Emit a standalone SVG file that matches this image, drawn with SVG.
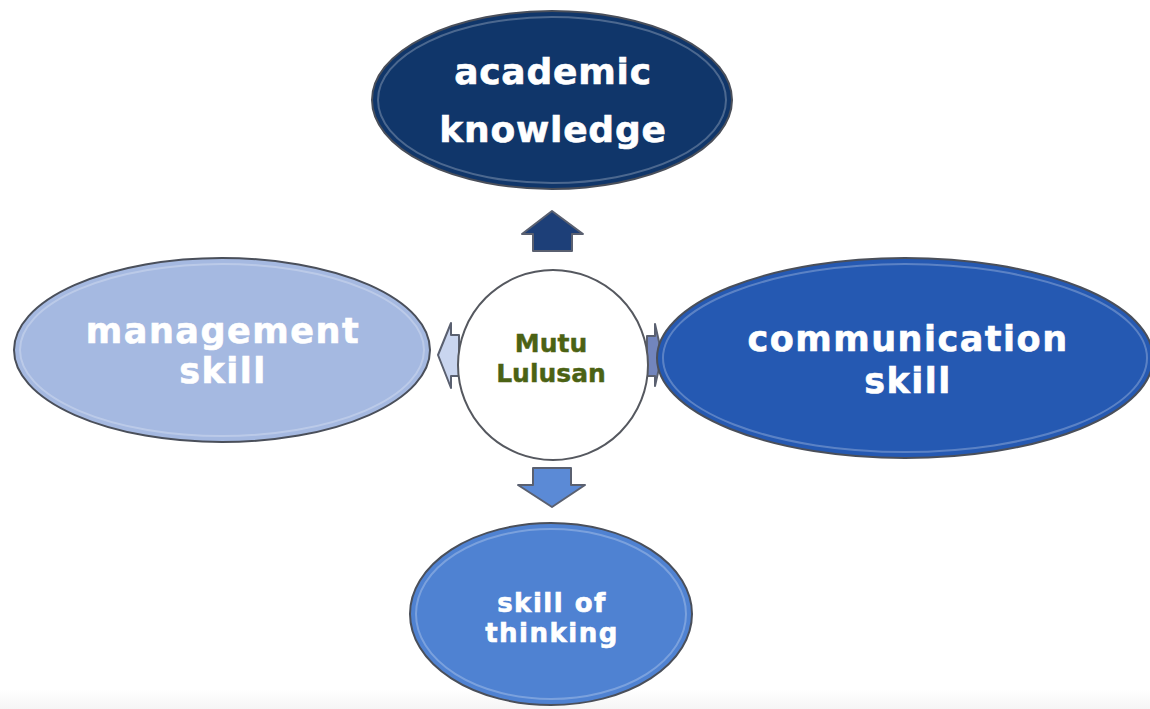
<svg xmlns="http://www.w3.org/2000/svg" width="1150" height="709" viewBox="0 0 1150 709">
<defs>
<style>
.node{stroke:#4a4f5a;stroke-width:2}
.gloss{fill:none;stroke:#ffffff;stroke-opacity:0.25;stroke-width:2}
.lbl{font-family:"DejaVu Sans","Verdana",sans-serif;font-weight:bold;fill:#ffffff;stroke:#ffffff;stroke-width:0.6;text-anchor:middle}
.arrow{stroke:#5a6070;stroke-width:2;stroke-linejoin:round}
.mutu{font-family:"DejaVu Sans","Verdana",sans-serif;font-weight:bold;font-size:25px;fill:#4b6214;stroke:#4b6214;stroke-width:0.4;text-anchor:middle}
</style>
<linearGradient id="band" x1="0" y1="0" x2="0" y2="1">
<stop offset="0" stop-color="#ffffff"/>
<stop offset="1" stop-color="#f5f5f5"/>
</linearGradient>
</defs>
<rect width="1150" height="709" fill="#ffffff"/>
<rect x="0" y="690" width="1150" height="19" fill="url(#band)"/>

<g id="connectors">
<polygon class="arrow" fill="#1d3f78" points="522,234 552,211 583,234 572,234 572,251 533,251 533,234"/>
<polygon class="arrow" fill="#5b8ad6" points="533,468 571,468 571,485 585,485 552,507 518,485 533,485"/>
<polygon class="arrow" fill="#c9d5ef" points="451,323 438,355 451,388 451,376 459,376 459,335 451,335"/>
<polygon class="arrow" fill="#7285bd" points="647,336 655,336 655,324 662,355 655,386 655,376 647,376"/>
</g>

<g id="node-academic">
<ellipse class="node" cx="552" cy="100" rx="180" ry="89" fill="#10366a"/>
<ellipse class="gloss" cx="552" cy="100" rx="174" ry="83"/>
<text class="lbl" x="553" y="84" font-size="36" letter-spacing="0.8">academic</text>
<text class="lbl" x="553" y="142" font-size="36" letter-spacing="0.8">knowledge</text>
</g>

<g id="node-management">
<ellipse class="node" cx="222" cy="350" rx="208" ry="92" fill="#a5b9e1"/>
<ellipse class="gloss" cx="222" cy="350" rx="202" ry="86"/>
<text class="lbl" x="223" y="343" font-size="35" letter-spacing="1.5">management</text>
<text class="lbl" x="223" y="383" font-size="35" letter-spacing="1.5">skill</text>
</g>

<g id="node-communication">
<ellipse class="node" cx="905" cy="358" rx="248" ry="100" fill="#2559b2"/>
<ellipse class="gloss" cx="905" cy="358" rx="242" ry="94"/>
<text class="lbl" x="908" y="351" font-size="35" letter-spacing="1.5">communication</text>
<text class="lbl" x="908" y="393" font-size="35" letter-spacing="1.5">skill</text>
</g>

<g id="node-thinking">
<ellipse class="node" cx="551" cy="614" rx="141" ry="91" fill="#4f82d2"/>
<ellipse class="gloss" cx="551" cy="614" rx="135" ry="85"/>
<text class="lbl" x="552" y="612" font-size="26" letter-spacing="1.5">skill of</text>
<text class="lbl" x="552" y="642" font-size="26" letter-spacing="1.5">thinking</text>
</g>

<g id="node-mutu">
<circle cx="553" cy="365" r="95" fill="#ffffff" stroke="#55585f" stroke-width="2"/>
<text class="mutu" x="551" y="352">Mutu</text>
<text class="mutu" x="551" y="382">Lulusan</text>
</g>
</svg>
